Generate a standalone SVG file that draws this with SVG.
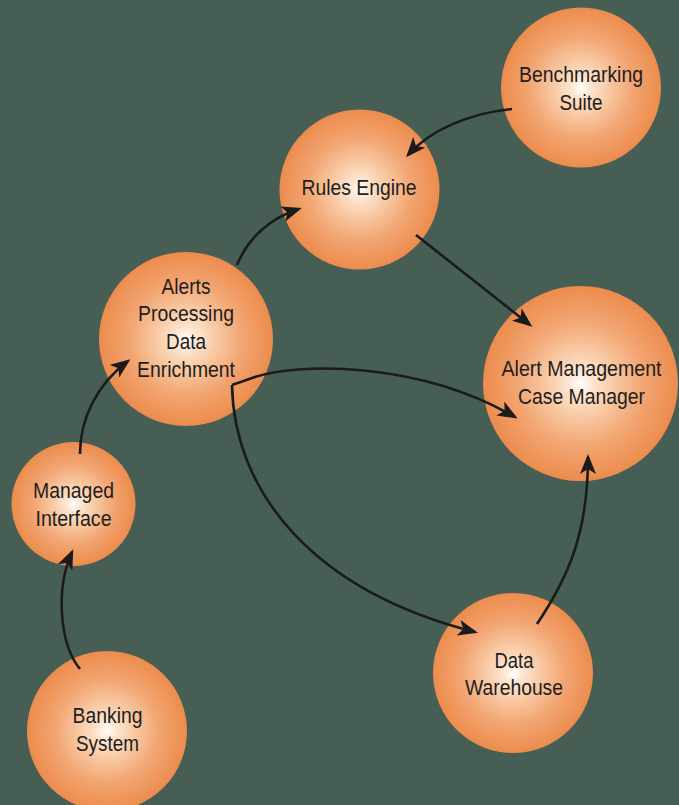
<svg xmlns="http://www.w3.org/2000/svg" width="679" height="805" viewBox="0 0 679 805">
<style>
.node circle{fill:url(#orb)}
.node text{font-family:"Liberation Sans",Arial,sans-serif;font-size:22px;fill:#1e1e1e;text-anchor:middle}
.conn path{fill:none;stroke:#1b1b1b;stroke-width:2.6;marker-end:url(#arr)}
</style>
<defs>
<radialGradient id="orb" cx="50%" cy="50%" r="50%">
<stop offset="0" stop-color="#ffffff"/>
<stop offset="0.12" stop-color="#fde6d2"/>
<stop offset="0.35" stop-color="#f8c9a3"/>
<stop offset="0.65" stop-color="#f2a572"/>
<stop offset="1" stop-color="#ec8c4d"/>
</radialGradient>
<marker id="arr" markerUnits="userSpaceOnUse" markerWidth="20" markerHeight="16" refX="17" refY="8" orient="auto">
<path d="M0,0 L20,8 L0,16 L5,8 Z" fill="#1b1b1b"/>
</marker>
</defs>
<rect width="679" height="805" fill="#475e55"/>
<g id="bench" class="node"><circle cx="581" cy="87.5" r="80"/>
<text x="581" y="82" textLength="124" lengthAdjust="spacingAndGlyphs">Benchmarking</text>
<text x="581" y="109.5" textLength="43" lengthAdjust="spacingAndGlyphs">Suite</text></g>
<g id="rules" class="node"><circle cx="359.5" cy="189.5" r="80"/>
<text x="359" y="195" textLength="115" lengthAdjust="spacingAndGlyphs">Rules Engine</text></g>
<g id="alerts" class="node"><circle cx="186" cy="339" r="87"/>
<text x="186" y="293.5" textLength="49" lengthAdjust="spacingAndGlyphs">Alerts</text>
<text x="186" y="321" textLength="96" lengthAdjust="spacingAndGlyphs">Processing</text>
<text x="186" y="348.5" textLength="40" lengthAdjust="spacingAndGlyphs">Data</text>
<text x="186" y="376.5" textLength="98" lengthAdjust="spacingAndGlyphs">Enrichment</text></g>
<g id="alertmgmt" class="node"><circle cx="580.5" cy="383.5" r="97.5"/>
<text x="581.5" y="376" textLength="160" lengthAdjust="spacingAndGlyphs">Alert Management</text>
<text x="581.5" y="403.5" textLength="127" lengthAdjust="spacingAndGlyphs">Case Manager</text></g>
<g id="managed" class="node"><circle cx="73.5" cy="504" r="62"/>
<text x="73.5" y="498" textLength="81" lengthAdjust="spacingAndGlyphs">Managed</text>
<text x="73.5" y="525.5" textLength="76" lengthAdjust="spacingAndGlyphs">Interface</text></g>
<g id="banking" class="node"><circle cx="107" cy="731" r="80"/>
<text x="107.5" y="723" textLength="70" lengthAdjust="spacingAndGlyphs">Banking</text>
<text x="107.5" y="750.5" textLength="63" lengthAdjust="spacingAndGlyphs">System</text></g>
<g id="warehouse" class="node"><circle cx="513" cy="673" r="80"/>
<text x="514" y="668" textLength="39" lengthAdjust="spacingAndGlyphs">Data</text>
<text x="514" y="695" textLength="98" lengthAdjust="spacingAndGlyphs">Warehouse</text></g>
<g id="connectors" class="conn">
<path d="M512,109 C470,113 430,130 408,155"/>
<path d="M416,235 L530,325"/>
<path d="M237,265 C248,238 270,218 299,209"/>
<path d="M80,454 C80,420 96,385 128,361"/>
<path d="M80,669 C60,645 55,590 72,552"/>
<path d="M232,385 L255,377 C300,362 420,362 515,417" stroke-linejoin="miter"/>
<path d="M232,385 C234,490 310,590 475,632"/>
<path d="M537,624 C570,575 588,530 588,457"/>
</g>
</svg>
